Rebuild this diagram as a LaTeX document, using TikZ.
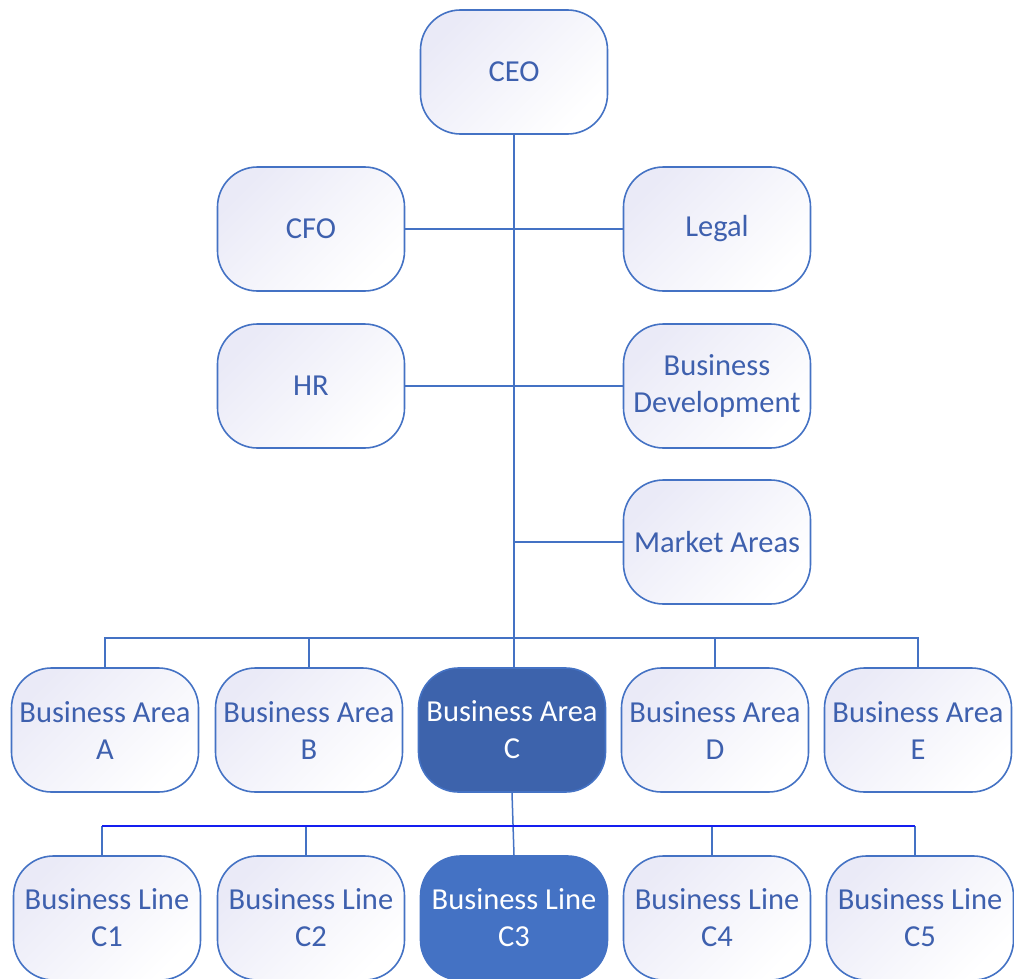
\documentclass[tikz,border=0pt]{standalone}
\usepackage{fontspec}
\setmainfont{Carlito}
\usetikzlibrary{positioning}
\definecolor{edge}{RGB}{68,114,196}
\definecolor{ink}{RGB}{62,96,174}
\definecolor{lav}{RGB}{234,234,247}
\definecolor{darkfill}{RGB}{61,99,172}
\definecolor{midfill}{RGB}{68,114,196}
\definecolor{busblue}{RGB}{20,30,240}
\tikzset{
  unit/.style={draw=edge, line width=1.6pt, rounded corners=40pt,
    minimum width=187pt, minimum height=124pt, inner sep=0pt,
    align=center, text=ink, font=\fontsize{30.5}{37}\selectfont,
    top color=lav, bottom color=white, shading angle=45},
  hilite/.style={unit, fill=#1, top color=#1, bottom color=#1, text=white, draw=edge},
  link/.style={draw=edge, line width=1.5pt},
  buslink/.style={draw=busblue, line width=1.8pt}
}
\begin{document}
\begin{tikzpicture}[x=1pt,y=-1pt]
\useasboundingbox (0,0) rectangle (1014,979);
\fill[white] (0,0) rectangle (1014,979);

% management
\node[unit] (ceo) at (514,72) {CEO};
\node[unit] (cfo) at (311,229) {CFO};
\node[unit] (legal) at (717,229) {Legal};
\node[unit] (hr) at (311,386) {HR};
\node[unit] (bd) at (717,386) {Business\\Development};
\node[unit] (ma) at (717,542) {Market Areas};

% business areas
\node[unit] (baa) at (105,730) {Business Area\\A};
\node[unit] (bab) at (309,730) {Business Area\\B};
\node[hilite=darkfill] (bac) at (512,730) {Business Area\\C};
\node[unit] (bad) at (715,730) {Business Area\\D};
\node[unit] (bae) at (918,730) {Business Area\\E};

% business lines
\node[unit] (lc1) at (107,918) {Business Line\\C1};
\node[unit] (lc2) at (311,918) {Business Line\\C2};
\node[hilite=midfill] (lc3) at (514,918) {Business Line\\C3};
\node[unit] (lc4) at (717,918) {Business Line\\C4};
\node[unit] (lc5) at (920,918) {Business Line\\C5};

% trunk and staff links
\coordinate (trunkend) at (514,638);
\draw[link] (ceo.south) -- (ceo.south |- bac.north);
\draw[link] (cfo.east) -- (legal.west);
\draw[link] (hr.east) -- (bd.west);
\draw[link] (ma.west) -- (ma.west -| ceo.south);

% business area bus
\draw[link] (baa.north) -- (baa.north |- trunkend) -- (bae.north |- trunkend) -- (bae.north);
\draw[link] (bab.north) -- (bab.north |- trunkend);
\draw[link] (bad.north) -- (bad.north |- trunkend);

% business line bus
\coordinate (lbus) at (0,826);
\draw[link] (bac.south) -- (lc3.north);
\draw[link] ([xshift=-5pt]lc1.north) -- ([xshift=-5pt]lc1.north |- lbus);
\draw[link] ([xshift=-5pt]lc2.north) -- ([xshift=-5pt]lc2.north |- lbus);
\draw[link] ([xshift=-5pt]lc4.north) -- ([xshift=-5pt]lc4.north |- lbus);
\draw[link] ([xshift=-5pt]lc5.north) -- ([xshift=-5pt]lc5.north |- lbus);
\draw[buslink] ([xshift=-5pt]lc1.north |- lbus) -- ([xshift=-5pt]lc5.north |- lbus);
\end{tikzpicture}
\end{document}
